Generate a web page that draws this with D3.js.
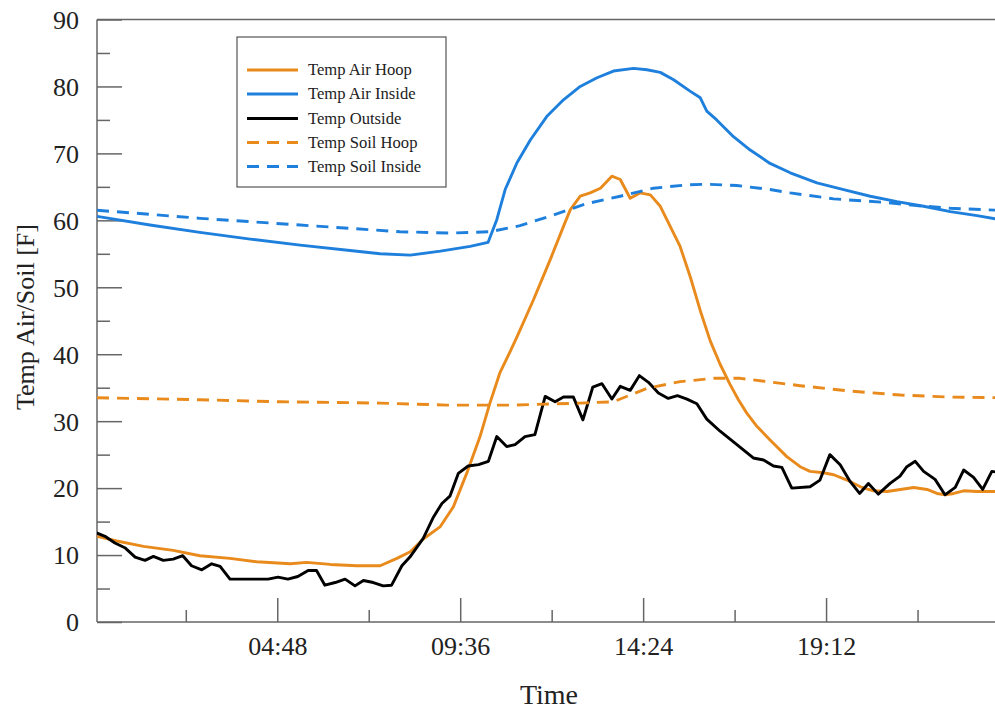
<!DOCTYPE html>
<html><head><meta charset="utf-8">
<script src="https://cdn.jsdelivr.net/npm/d3@7"></script>
<style>html,body{margin:0;padding:0;background:#fff;}svg{display:block;}</style>
</head><body>
<svg id="c" width="995" height="709"></svg>
<script>
// ---- data (time in decimal hours, temperature in F) ----
const seriesNames = ["Temp Air Hoop","Temp Air Inside","Temp Outside","Temp Soil Hoop","Temp Soil Inside"];

const airHoopT = [0.07,0.59,1.29,2.07,2.77,3.56,4.26,5.14,5.57,6.19,6.89,7.50,7.94,8.29,8.63,9.07,9.42,9.77,10.12,10.38,10.64,10.91,11.09,11.52,11.96,12.31,12.49,12.75,13.01,13.28,13.58,13.80,14.06,14.32,14.59,14.85,15.11,15.37,15.64,15.90,16.16,16.42,16.68,16.90,17.12,17.39,17.73,18.17,18.52,18.78,19.13,19.40,19.75,20.10,20.44,20.80,21.15,21.50,21.85,22.11,22.33,22.55,22.81,23.16,23.77];
const airHoopV = [12.8,12.1,11.3,10.7,9.9,9.5,9.0,8.7,8.9,8.6,8.4,8.4,9.5,10.5,12.4,14.2,17.2,22.2,27.7,32.7,37.2,40.4,42.6,48.1,54.1,59.1,61.6,63.6,64.1,64.8,66.6,66.1,63.3,64.1,63.8,62.1,59.1,56.1,51.5,46.5,42.0,38.5,35.5,33.2,31.2,29.2,27.2,24.7,23.2,22.5,22.3,22.0,21.2,20.2,19.6,19.5,19.8,20.1,19.8,19.2,19.0,19.2,19.6,19.5,19.5];

const airInsideT = [0.07,1.46,2.77,4.09,5.40,6.71,7.50,8.29,9.08,9.86,10.33,10.56,10.78,11.09,11.44,11.87,12.31,12.75,13.19,13.62,14.15,14.50,14.85,15.20,15.63,15.90,16.07,16.33,16.77,17.21,17.73,18.26,18.96,19.66,20.36,21.06,21.76,22.46,23.16,23.77];
const airInsideV = [60.6,59.3,58.2,57.2,56.3,55.5,55.0,54.8,55.4,56.1,56.7,60.1,64.6,68.6,72.0,75.5,78.0,80.0,81.3,82.3,82.7,82.5,82.1,81.0,79.3,78.3,76.3,75.0,72.5,70.5,68.5,67.1,65.6,64.6,63.6,62.8,62.1,61.3,60.7,60.1];

const outsideT = [0.06,0.28,0.54,0.80,1.07,1.33,1.55,1.81,2.07,2.32,2.55,2.82,3.08,3.30,3.56,3.82,4.16,4.56,4.82,5.08,5.34,5.61,5.83,6.05,6.32,6.58,6.84,7.06,7.32,7.58,7.80,8.07,8.28,8.63,8.90,9.12,9.33,9.55,9.81,10.08,10.34,10.56,10.82,11.04,11.30,11.56,11.83,12.09,12.31,12.57,12.82,13.08,13.32,13.58,13.80,14.06,14.30,14.54,14.80,15.06,15.30,15.55,15.81,16.07,16.42,16.86,17.29,17.56,17.82,18.04,18.30,18.78,19.04,19.30,19.57,19.83,20.08,20.31,20.57,20.88,21.14,21.32,21.54,21.76,22.06,22.32,22.59,22.81,23.07,23.31,23.55,23.77];
const outsideV = [13.3,12.8,11.8,11.1,9.7,9.2,9.8,9.2,9.4,9.9,8.4,7.8,8.7,8.3,6.4,6.4,6.4,6.4,6.7,6.4,6.8,7.7,7.7,5.5,5.9,6.4,5.4,6.2,5.9,5.4,5.5,8.4,9.7,12.5,15.7,17.7,18.8,22.2,23.3,23.5,24.0,27.7,26.2,26.5,27.7,28.0,33.7,32.9,33.6,33.6,30.2,35.1,35.6,33.3,35.2,34.6,36.8,35.8,34.2,33.4,33.8,33.3,32.6,30.3,28.5,26.5,24.5,24.2,23.3,23.1,20.0,20.2,21.2,25.0,23.5,21.0,19.2,20.7,19.1,20.7,21.8,23.2,24.0,22.5,21.3,19.0,20.1,22.7,21.6,19.8,22.5,22.3];

const soilHoopT = [0.07,2.77,4.87,7.50,9.25,11.00,12.75,13.62,14.50,15.37,16.25,16.95,18.52,19.83,21.15,22.46,23.77];
const soilHoopV = [33.5,33.2,32.9,32.7,32.4,32.4,32.7,32.9,34.9,35.9,36.4,36.4,35.3,34.5,33.9,33.6,33.5];

const soilInsideT = [0.07,1.46,2.77,4.09,5.40,6.71,8.02,9.34,10.38,11.17,12.05,12.92,13.80,14.67,15.55,16.07,16.86,17.73,18.26,19.40,20.71,21.58,22.46,23.77];
const soilInsideV = [61.5,60.9,60.3,59.8,59.3,58.8,58.3,58.1,58.3,59.2,60.8,62.5,63.6,64.8,65.3,65.4,65.2,64.6,64.1,63.2,62.7,62.2,61.8,61.5];

const xMajorTicks = [4.8, 9.6, 14.4, 19.2];
const xMinorTicks = [2.4, 7.2, 12.0, 16.8, 21.6];
const yMajorTicks = [0,10,20,30,40,50,60,70,80,90];
const yMinorTicks = [5,15,25,35,45,55,65,75,85];

// ---- layout ----
const svg = d3.select("#c");
const L = 97, T = 19.5, B = 622, R = 1009;
const x = d3.scaleLinear().domain([0.07, 24]).range([L, R]);
const y = d3.scaleLinear().domain([0, 90]).range([B, T]);
const axisCol = "#666";
const font = "'Liberation Serif','Times New Roman',serif";
const orange = "#E98A1D", blue = "#1E80DC";

const styles = [
  {t: airHoopT, v: airHoopV, c: orange, dash: null},
  {t: airInsideT, v: airInsideV, c: blue, dash: null},
  {t: outsideT, v: outsideV, c: "#000", dash: null},
  {t: soilHoopT, v: soilHoopV, c: orange, dash: "12,8"},
  {t: soilInsideT, v: soilInsideV, c: blue, dash: "12,8"}
];

svg.append("clipPath").attr("id","pc").append("rect")
  .attr("x", L).attr("y", T).attr("width", R - L).attr("height", B - T);

// axes frame
const yAxis = d3.axisLeft(y).tickValues(yMajorTicks).tickSize(-25).tickFormat(d3.format("d")).tickPadding(18);
const gy = svg.append("g").attr("transform", `translate(${L},0)`).call(yAxis);
gy.select(".domain").remove();
gy.selectAll(".tick line").attr("stroke", axisCol).attr("stroke-width", 1.5);
gy.selectAll(".tick text").attr("font-family", font).attr("font-size", 26).attr("fill", "#222").attr("dy", "0.34em");

const gym = svg.append("g").attr("transform", `translate(${L},0)`)
  .call(d3.axisLeft(y).tickValues(yMinorTicks).tickSize(-13).tickFormat(""));
gym.select(".domain").remove();
gym.selectAll(".tick line").attr("stroke", axisCol).attr("stroke-width", 1.5);

const fmt = h => { const m = Math.round(h * 60); return String(Math.floor(m/60)).padStart(2,"0") + ":" + String(m%60).padStart(2,"0"); };
const gx = svg.append("g").attr("transform", `translate(0,${B})`)
  .call(d3.axisBottom(x).tickValues(xMajorTicks).tickSize(-24).tickFormat(fmt).tickPadding(13));
gx.select(".domain").remove();
gx.selectAll(".tick line").attr("stroke", axisCol).attr("stroke-width", 1.5);
gx.selectAll(".tick text").attr("font-family", font).attr("font-size", 26).attr("fill", "#222").attr("dy", "0.75em");

const gxm = svg.append("g").attr("transform", `translate(0,${B})`)
  .call(d3.axisBottom(x).tickValues(xMinorTicks).tickSize(-12).tickFormat(""));
gxm.select(".domain").remove();
gxm.selectAll(".tick line").attr("stroke", axisCol).attr("stroke-width", 1.5);

// frame lines
svg.append("line").attr("x1", L).attr("x2", L).attr("y1", T).attr("y2", B).attr("stroke", axisCol).attr("stroke-width", 1.5);
svg.append("line").attr("x1", L).attr("x2", R).attr("y1", B).attr("y2", B).attr("stroke", axisCol).attr("stroke-width", 1.5);
svg.append("line").attr("x1", L).attr("x2", R).attr("y1", T).attr("y2", T).attr("stroke", axisCol).attr("stroke-width", 1.5);

// series
const line = d3.line().x(d => x(d[0])).y(d => y(d[1]));
const gl = svg.append("g").attr("clip-path", "url(#pc)");
styles.forEach(s => {
  const pts = s.t.map((t, i) => [t, s.v[i]]);
  gl.append("path").datum(pts).attr("d", line)
    .attr("fill", "none").attr("stroke", s.c).attr("stroke-width", 2.9)
    .attr("stroke-linejoin", "round")
    .attr("stroke-dasharray", s.dash);
});

// axis titles
svg.append("text").attr("x", 549).attr("y", 704).attr("text-anchor", "middle")
  .attr("font-family", font).attr("font-size", 28).attr("fill", "#222").text("Time");
svg.append("text").attr("transform", "translate(34,317) rotate(-90)").attr("text-anchor", "middle")
  .attr("font-family", font).attr("font-size", 26).attr("fill", "#222").text("Temp Air/Soil [F]");

// legend
const lg = svg.append("g");
lg.append("rect").attr("x", 237).attr("y", 37).attr("width", 209).attr("height", 150)
  .attr("fill", "#fff").attr("stroke", "#555").attr("stroke-width", 1.2);
const rowY = [70, 94, 118.5, 142.5, 166.5];
seriesNames.forEach((n, i) => {
  lg.append("line").attr("x1", 247).attr("x2", 298).attr("y1", rowY[i]).attr("y2", rowY[i])
    .attr("stroke", styles[i].c).attr("stroke-width", 2.9).attr("stroke-dasharray", styles[i].dash);
  lg.append("text").attr("x", 308).attr("y", rowY[i]).attr("dy", "0.33em")
    .attr("font-family", font).attr("font-size", 16.6).attr("fill", "#222").text(n);
});
</script>
</body></html>
